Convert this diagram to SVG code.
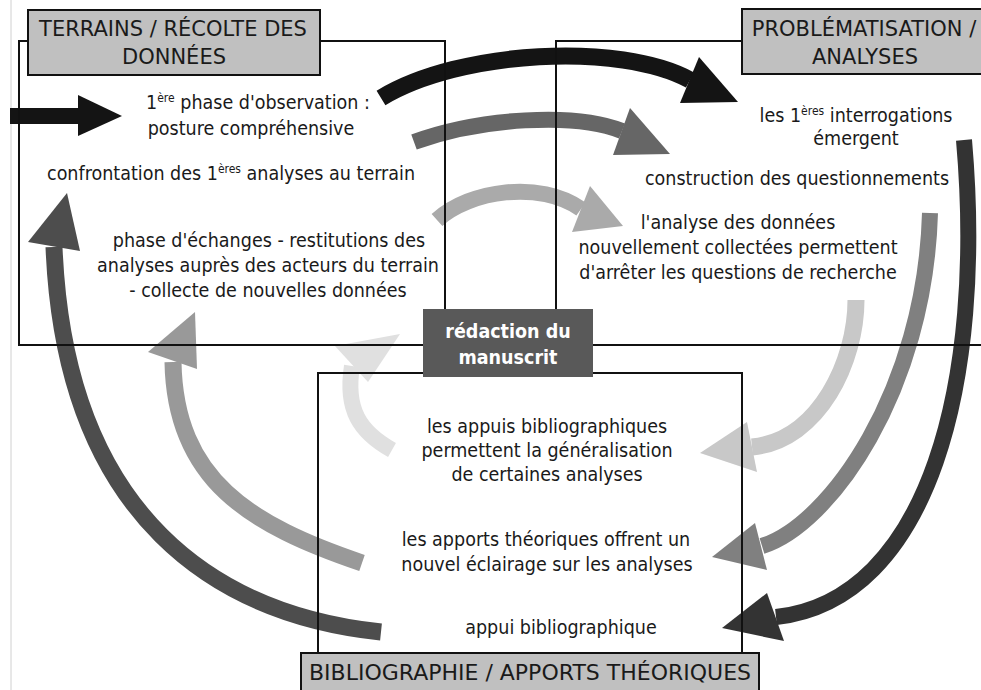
<svg xmlns="http://www.w3.org/2000/svg" width="981" height="690" viewBox="0 0 981 690">
<style>
  .bg { fill: #ffffff; }
  .frame { fill: none; stroke: #111; stroke-width: 2; }
  .title { fill: #c0c0c0; stroke: #111; stroke-width: 2; }
  .ttl { font-family: "DejaVu Sans", "Liberation Sans", sans-serif; font-size: 21px; fill: #1a1a1a; text-anchor: middle; }
  .txt { font-family: "DejaVu Sans", "Liberation Sans", sans-serif; font-stretch: condensed; font-size: 19.5px; fill: #1a1a1a; text-anchor: middle; }
  .sup { font-size: 12px; }
  .red { fill: #595959; }
  .redt { font-family: "DejaVu Sans", "Liberation Sans", sans-serif; font-stretch: condensed; font-weight: bold; font-size: 19.5px; fill: #ffffff; text-anchor: middle; }
  .shaft { fill: none; stroke-linecap: butt; }
  .c1 { stroke: #141414; fill: #141414; }
  .c2 { stroke: #666666; fill: #666666; }
  .c3 { stroke: #aaaaaa; fill: #aaaaaa; }
  .c4 { stroke: #333333; fill: #333333; }
  .c5 { stroke: #808080; fill: #808080; }
  .c6 { stroke: #c8c8c8; fill: #c8c8c8; }
  .c7 { stroke: #4d4d4d; fill: #4d4d4d; }
  .c8 { stroke: #999999; fill: #999999; }
  .c9 { stroke: #e0e0e0; fill: #e0e0e0; }
  .head { stroke: none; }
</style>
<rect class="bg" x="0" y="0" width="981" height="690"/>
<line x1="11" y1="0" x2="11" y2="690" stroke="#d0d0d0" stroke-width="1"/>

<g id="connectors">
  <!-- entry arrow -->
  <rect class="c1 head" x="10" y="108" width="70" height="16"/>
  <polygon class="c1 head" points="78,95 122,116 78,136"/>
  <!-- top arcs -->
  <path class="shaft c1" style="fill:none" stroke-width="17" d="M381,98 C460,50 620,42 690,80"/>
  <polygon class="c1 head" points="699,57 738,102 680,103"/>
  <path class="shaft c2" style="fill:none" stroke-width="16" d="M414,142 C480,118 575,112 622,131"/>
  <polygon class="c2 head" points="630,108 670,154 613,155"/>
  <path class="shaft c3" style="fill:none" stroke-width="16" d="M437,220 C470,190 540,180 581,209"/>
  <polygon class="c3 head" points="590,186 623,226 572,232"/>
  <!-- right arcs -->
  <path class="shaft c4" style="fill:none" stroke-width="16" d="M964,140 C985,380 930,600 776,617"/>
  <polygon class="c4 head" points="767,593 722,628 784,641"/>
  <path class="shaft c5" style="fill:none" stroke-width="16" d="M930,213 C925,390 830,525 762,546"/>
  <polygon class="c5 head" points="755,523 712,557 767,570"/>
  <path class="shaft c6" style="fill:none" stroke-width="17" d="M856,300 C856,360 820,440 752,447"/>
  <polygon class="c6 head" points="747,422 700,453 757,472"/>
  <!-- left arcs -->
  <path class="shaft c7" style="fill:none" stroke-width="17" d="M381,632 C220,615 65,520 54,247"/>
  <polygon class="c7 head" points="28,242 67,193 80,251"/>
  <path class="shaft c8" style="fill:none" stroke-width="17" d="M362,563 C250,525 175,480 173,362"/>
  <polygon class="c8 head" points="148,352 195,312 197,369"/>
  <path class="shaft c9" style="fill:none" stroke-width="16" d="M392,450 C360,432 345,410 352,366"/>
  <polygon class="c9 head" points="335,346 400,334 368,382"/>
</g>

<g id="terrains">
  <rect class="frame" x="19" y="41" width="426" height="304"/>
  <rect class="title" x="28" y="10" width="292" height="65"/>
  <text class="ttl" x="173" y="36">TERRAINS / RÉCOLTE DES</text>
  <text class="ttl" x="174" y="64">DONNÉES</text>
  <text class="txt" x="258" y="109">1<tspan class="sup" dy="-7">ère</tspan><tspan dy="7"> phase d'observation :</tspan></text>
  <text class="txt" x="251" y="135">posture compréhensive</text>
  <text class="txt" x="231" y="180">confrontation des 1<tspan class="sup" dy="-7">ères</tspan><tspan dy="7"> analyses au terrain</tspan></text>
  <text class="txt" x="269" y="247">phase d'échanges - restitutions des</text>
  <text class="txt" x="268" y="272">analyses auprès des acteurs du terrain</text>
  <text class="txt" x="268" y="297">- collecte de nouvelles données</text>
</g>

<g id="problematisation">
  <path class="frame" d="M742,41 H556 V345 H981"/>
  <rect class="title" x="742" y="9" width="250" height="65"/>
  <text class="ttl" x="864" y="36">PROBLÉMATISATION /</text>
  <text class="ttl" x="865" y="64">ANALYSES</text>
  <text class="txt" x="856" y="122">les 1<tspan class="sup" dy="-7">ères</tspan><tspan dy="7"> interrogations</tspan></text>
  <text class="txt" x="856" y="145">émergent</text>
  <text class="txt" x="797" y="185">construction des questionnements</text>
  <text class="txt" x="738" y="229">l'analyse des données</text>
  <text class="txt" x="738" y="254">nouvellement collectées permettent</text>
  <text class="txt" x="738" y="279">d'arrêter les questions de recherche</text>
</g>

<g id="bibliographie">
  <path class="frame" d="M318,653 V373 H742 V653"/>
  <rect class="title" x="301" y="653" width="458" height="45"/>
  <text class="ttl" x="530" y="680" style="font-size:22px">BIBLIOGRAPHIE / APPORTS THÉORIQUES</text>
  <text class="txt" x="547" y="433">les appuis bibliographiques</text>
  <text class="txt" x="547" y="457">permettent la généralisation</text>
  <text class="txt" x="547" y="481">de certaines analyses</text>
  <text class="txt" x="546" y="546">les apports théoriques offrent un</text>
  <text class="txt" x="547" y="571">nouvel éclairage sur les analyses</text>
  <text class="txt" x="561" y="634">appui bibliographique</text>
</g>

<g id="redaction">
  <rect class="red" x="423" y="309" width="170" height="68"/>
  <text class="redt" x="508" y="338">rédaction du</text>
  <text class="redt" x="508" y="364">manuscrit</text>
</g>
</svg>
